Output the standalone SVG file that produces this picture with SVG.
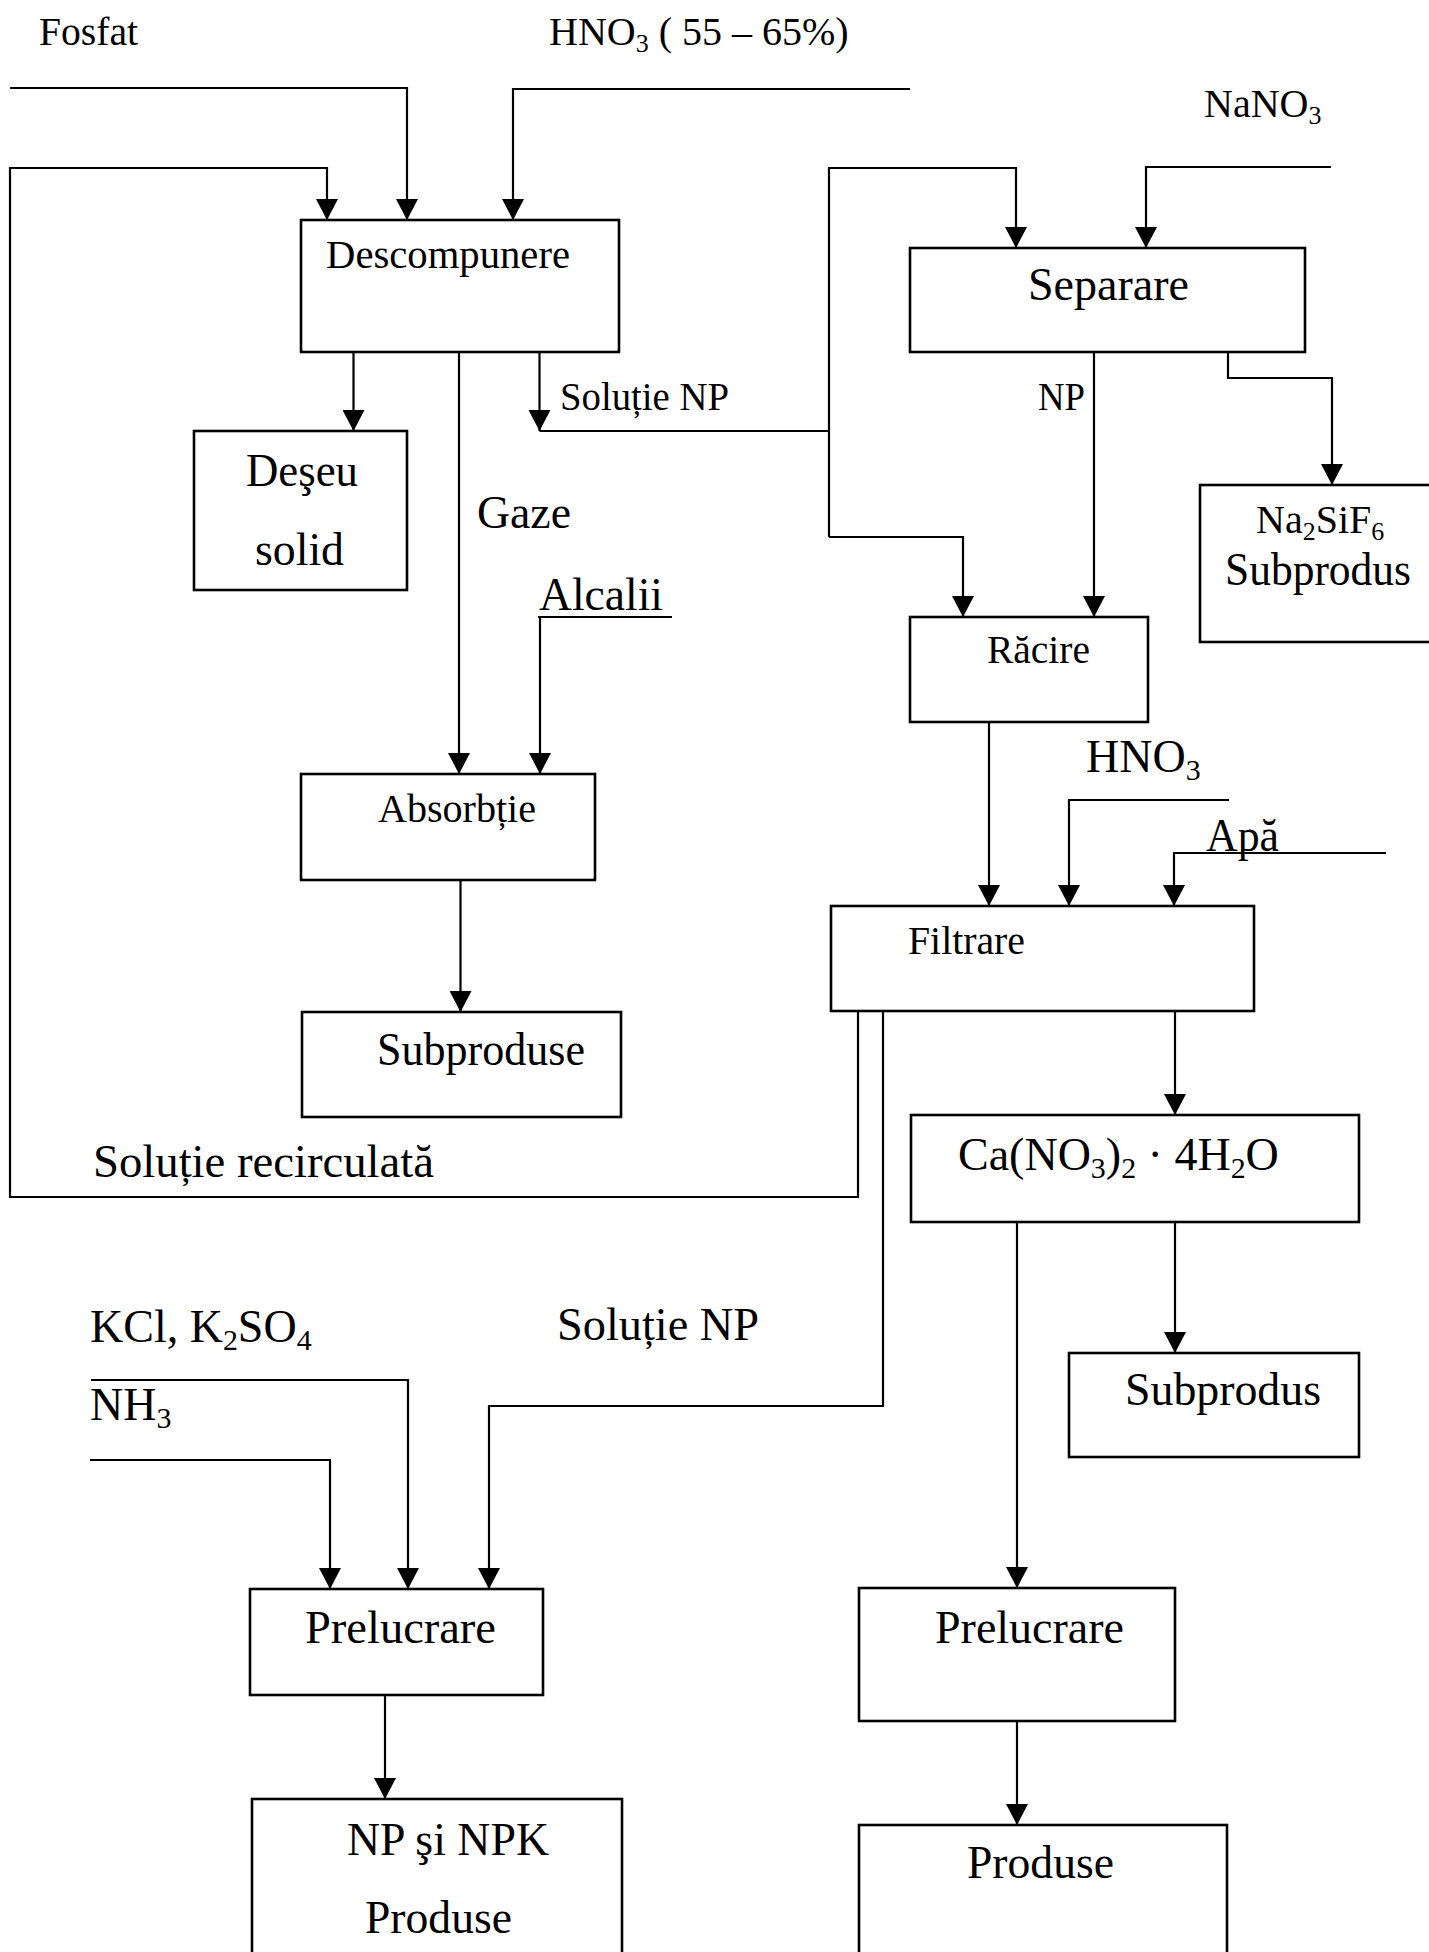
<svg xmlns="http://www.w3.org/2000/svg" width="1429" height="1952" viewBox="0 0 1429 1952">
  <style>
    .box { fill: none; stroke: #000; stroke-width: 2.6; }
    .ln { fill: none; stroke: #000; stroke-width: 2.2; }
    .arr { marker-end: url(#ah); }
    text { font-family: "Liberation Serif", "Times New Roman", serif; fill: #000; }
    .s { font-size: 40px; }
    .b { font-size: 46px; }
    .sub { font-size: 0.65em; }
  </style>
  <defs>
    <marker id="ah" markerUnits="userSpaceOnUse" markerWidth="22" markerHeight="22" refX="21" refY="11" orient="auto">
      <path d="M0,0 L21,11 L0,22 Z" fill="#000"/>
    </marker>
  </defs>

  <rect width="1429" height="1952" fill="#fff"/>

  <!-- free labels on the feed and return streams -->
  <g id="labels">
    <text class="s" x="39" y="45" textLength="99" lengthAdjust="spacingAndGlyphs">Fosfat</text>
    <text class="s" x="549" y="45">HNO<tspan class="sub" dy="7">3</tspan><tspan dy="-7"> ( 55 – 65%)</tspan></text>
    <text class="s" x="1204" y="117">NaNO<tspan class="sub" dy="7">3</tspan></text>
    <text class="s" x="560" y="410" textLength="169" lengthAdjust="spacingAndGlyphs">Soluție NP</text>
    <text class="s" x="1038" y="410" textLength="47" lengthAdjust="spacingAndGlyphs">NP</text>
    <text class="b" x="477" y="528" textLength="94" lengthAdjust="spacingAndGlyphs">Gaze</text>
    <text class="b" x="539" y="610" textLength="124" lengthAdjust="spacingAndGlyphs">Alcalii</text>
    <text class="b" x="1086" y="772">HNO<tspan class="sub" dy="8">3</tspan></text>
    <text class="b" x="1206" y="851" textLength="73" lengthAdjust="spacingAndGlyphs">Apă</text>
    <text class="b" x="93" y="1177" textLength="341" lengthAdjust="spacingAndGlyphs">Soluție recirculată</text>
    <text class="b" x="90" y="1342">KCl, K<tspan class="sub" dy="8">2</tspan><tspan dy="-8">SO</tspan><tspan class="sub" dy="8">4</tspan></text>
    <text class="b" x="90" y="1420">NH<tspan class="sub" dy="8">3</tspan></text>
    <text class="b" x="557" y="1340" textLength="202" lengthAdjust="spacingAndGlyphs">Soluție NP</text>
  </g>

  <!-- process streams -->
  <g id="connectors">
    <!-- feeds into Descompunere -->
    <polyline class="ln arr" points="10,88 407,88 407,220"/>
    <polyline class="ln arr" points="910,89 513,89 513,220"/>
    <!-- recycled solution from Filtrare -->
    <polyline class="ln arr" points="858,1011 858,1197 10,1197 10,168 327,168 327,220"/>
    <!-- outputs of Descompunere -->
    <polyline class="ln arr" points="353.5,352 353.5,431"/>
    <polyline class="ln arr" points="459,352 459,774"/>
    <polyline class="ln arr" points="539.5,352 539.5,431"/>
    <polyline class="ln" points="539.5,431 829,431"/>
    <!-- alkali feed -->
    <polyline class="ln" points="538,617 672,617"/>
    <polyline class="ln arr" points="540,617 540,774"/>
    <!-- Absorbtie to by-products -->
    <polyline class="ln arr" points="460.5,880 460.5,1012"/>
    <!-- NP solution split to Separare and Racire -->
    <polyline class="ln arr" points="829,537 829,168 1016,168 1016,248"/>
    <polyline class="ln arr" points="829,537 963,537 963,617"/>
    <polyline class="ln arr" points="1331,167 1146,167 1146,248"/>
    <!-- outputs of Separare -->
    <polyline class="ln arr" points="1094,352 1094,617"/>
    <polyline class="ln arr" points="1228,352 1228,378 1332,378 1332,485"/>
    <!-- into Filtrare -->
    <polyline class="ln arr" points="989,722 989,906"/>
    <polyline class="ln arr" points="1229,800 1069,800 1069,906"/>
    <polyline class="ln arr" points="1386,853 1174,853 1174,906"/>
    <!-- outputs of Filtrare -->
    <polyline class="ln arr" points="883,1011 883,1406 489,1406 489,1589"/>
    <polyline class="ln arr" points="1175,1011 1175,1115"/>
    <!-- calcium nitrate branches -->
    <polyline class="ln arr" points="1017,1222 1017,1588"/>
    <polyline class="ln arr" points="1175,1222 1175,1353"/>
    <!-- additives into Prelucrare -->
    <polyline class="ln arr" points="91,1380 408,1380 408,1589"/>
    <polyline class="ln arr" points="90,1460 330,1460 330,1589"/>
    <!-- finishing to products -->
    <polyline class="ln arr" points="385,1695 385,1799"/>
    <polyline class="ln arr" points="1017,1721 1017,1825"/>
  </g>

  <g id="descompunere">
    <rect class="box" x="301" y="220" width="318" height="132"/>
    <text class="s" x="326" y="268" textLength="244" lengthAdjust="spacingAndGlyphs">Descompunere</text>
  </g>
  <g id="deseu-solid">
    <rect class="box" x="194" y="431" width="213" height="159"/>
    <text class="b" x="246" y="486" textLength="112" lengthAdjust="spacingAndGlyphs">Deşeu</text>
    <text class="b" x="255" y="565" textLength="89" lengthAdjust="spacingAndGlyphs">solid</text>
  </g>
  <g id="absorbtie">
    <rect class="box" x="301" y="774" width="294" height="106"/>
    <text class="s" x="378" y="822" textLength="158" lengthAdjust="spacingAndGlyphs">Absorbție</text>
  </g>
  <g id="subproduse">
    <rect class="box" x="302" y="1012" width="319" height="105"/>
    <text class="b" x="377" y="1065" textLength="208" lengthAdjust="spacingAndGlyphs">Subproduse</text>
  </g>
  <g id="separare">
    <rect class="box" x="910" y="248" width="395" height="104"/>
    <text class="b" x="1028" y="300" textLength="161" lengthAdjust="spacingAndGlyphs">Separare</text>
  </g>
  <g id="na2sif6">
    <rect class="box" x="1200" y="485" width="231" height="157"/>
    <text class="s" x="1256" y="533">Na<tspan class="sub" dy="7">2</tspan><tspan dy="-7">SiF</tspan><tspan class="sub" dy="7">6</tspan></text>
    <text class="b" x="1225" y="585" textLength="186" lengthAdjust="spacingAndGlyphs">Subprodus</text>
  </g>
  <g id="racire">
    <rect class="box" x="910" y="617" width="238" height="105"/>
    <text class="s" x="987" y="663" textLength="103" lengthAdjust="spacingAndGlyphs">Răcire</text>
  </g>
  <g id="filtrare">
    <rect class="box" x="831" y="906" width="423" height="105"/>
    <text class="s" x="908" y="954" textLength="117" lengthAdjust="spacingAndGlyphs">Filtrare</text>
  </g>
  <g id="azotat-calciu">
    <rect class="box" x="911" y="1115" width="448" height="107"/>
    <text class="b" x="958" y="1170">Ca(NO<tspan class="sub" dy="8">3</tspan><tspan dy="-8">)</tspan><tspan class="sub" dy="8">2</tspan><tspan dy="-8"> · 4H</tspan><tspan class="sub" dy="8">2</tspan><tspan dy="-8">O</tspan></text>
  </g>
  <g id="subprodus">
    <rect class="box" x="1069" y="1353" width="290" height="104"/>
    <text class="b" x="1125" y="1405" textLength="196" lengthAdjust="spacingAndGlyphs">Subprodus</text>
  </g>
  <g id="prelucrare-np">
    <rect class="box" x="250" y="1589" width="293" height="106"/>
    <text class="b" x="305" y="1643" textLength="191" lengthAdjust="spacingAndGlyphs">Prelucrare</text>
  </g>
  <g id="prelucrare-ca">
    <rect class="box" x="859" y="1588" width="316" height="133"/>
    <text class="b" x="935" y="1643" textLength="189" lengthAdjust="spacingAndGlyphs">Prelucrare</text>
  </g>
  <g id="produse-npk">
    <rect class="box" x="252" y="1799" width="370" height="170"/>
    <text class="b" x="347" y="1855" textLength="202" lengthAdjust="spacingAndGlyphs">NP şi NPK</text>
    <text class="b" x="365" y="1933" textLength="147" lengthAdjust="spacingAndGlyphs">Produse</text>
  </g>
  <g id="produse">
    <rect class="box" x="859" y="1825" width="368" height="150"/>
    <text class="b" x="967" y="1878" textLength="147" lengthAdjust="spacingAndGlyphs">Produse</text>
  </g>
</svg>
